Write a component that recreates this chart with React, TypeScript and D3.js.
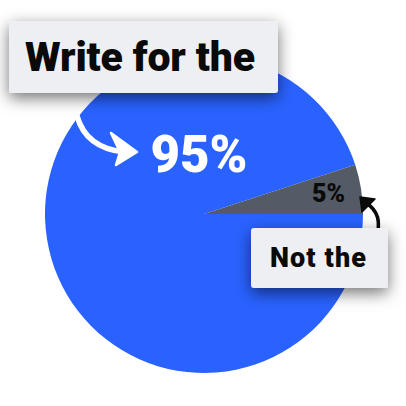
import { useEffect, useRef } from 'react';
import * as d3 from 'd3';

const categories = ['Write for the', 'Not the'];
const values = [95, 5];
const valueLabels = ['95%', '5%'];
const colors = ['#2962FF', '#535B67'];

const W = 406;
const H = 406;

export default function App() {
  const svgRef = useRef<SVGSVGElement>(null);

  useEffect(() => {
    if (!svgRef.current) return;
    const svg = d3.select(svgRef.current);
    svg.selectAll('*').remove();

    const cx = 204;
    const cy = 214;
    const radius = 159;
    const font = 'Roboto, "Noto Sans", sans-serif';

    const defs = svg.append('defs');
    const shadow = defs
      .append('filter')
      .attr('id', 'shadow')
      .attr('x', '-30%')
      .attr('y', '-50%')
      .attr('width', '160%')
      .attr('height', '220%');
    shadow
      .append('feDropShadow')
      .attr('dx', 0)
      .attr('dy', 5)
      .attr('stdDeviation', 8)
      .attr('flood-color', '#000')
      .attr('flood-opacity', 0.55);

    const data = categories.map((c, i) => ({ name: c, value: values[i], label: valueLabels[i], color: colors[i] }));

    const pie = d3
      .pie<typeof data[number]>()
      .value((d) => d.value)
      .sort(null)
      .startAngle(Math.PI / 2)
      .endAngle(Math.PI / 2 + 2 * Math.PI);

    const arc = d3.arc<d3.PieArcDatum<typeof data[number]>>().innerRadius(0).outerRadius(radius);
    const labelArc = d3.arc<d3.PieArcDatum<typeof data[number]>>().innerRadius(125).outerRadius(125);

    const g = svg.append('g').attr('transform', `translate(${cx},${cy})`);
    const arcs = pie(data);

    g.selectAll('path.slice')
      .data(arcs)
      .enter()
      .append('path')
      .attr('class', 'slice')
      .attr('d', arc)
      .attr('fill', (d) => d.data.color);

    // small slice label
    const small = arcs[1];
    const [sx, sy] = labelArc.centroid(small);
    g.append('text')
      .attr('x', sx + 1)
      .attr('y', sy + 8)
      .attr('text-anchor', 'middle')
      .style('font-family', font)
      .style('font-weight', 900)
      .style('font-size', '25px')
      .style('fill', '#0a0a0a')
      .text(small.data.label);

    // big slice label
    svg
      .append('text')
      .attr('x', 199)
      .attr('y', 172)
      .attr('text-anchor', 'middle')
      .style('font-family', font)
      .style('font-weight', 900)
      .style('font-size', '51px')
      .style('fill', '#ffffff')
      .text(arcs[0].data.label);

    // white arrow
    svg
      .append('path')
      .attr('d', 'M77,116 Q86,148 124,152')
      .attr('fill', 'none')
      .attr('stroke', '#fff')
      .attr('stroke-width', 5.5)
      .attr('stroke-linecap', 'round');
    svg
      .append('path')
      .attr('d', 'M111,133 L137,152 L116,165 L120,152 Z')
      .attr('fill', '#fff')
      .attr('stroke', '#fff')
      .attr('stroke-width', 2.5)
      .attr('stroke-linejoin', 'round');

    // black arrow
    svg
      .append('path')
      .attr('d', 'M376,238 Q384,214 366,203')
      .attr('fill', 'none')
      .attr('stroke', '#0a0a0a')
      .attr('stroke-width', 3.5)
      .attr('stroke-linecap', 'round');
    svg
      .append('path')
      .attr('d', 'M360,197 L375,199 L362,212 Z')
      .attr('fill', '#0a0a0a')
      .attr('stroke', '#0a0a0a')
      .attr('stroke-width', 1.5)
      .attr('stroke-linejoin', 'round');

    // callout boxes
    const boxes = [
      { text: categories[0], x: 9, y: 21, w: 269, h: 72, tx: 25, ty: 71, size: 41, len: 230 },
      { text: categories[1], x: 251, y: 228, w: 137, h: 60, tx: 270, ty: 267, size: 27, len: 96 },
    ];
    boxes.forEach((b) => {
      svg
        .append('rect')
        .attr('x', b.x)
        .attr('y', b.y)
        .attr('width', b.w)
        .attr('height', b.h)
        .attr('rx', 3)
        .attr('fill', '#EDEFF2')
        .attr('filter', 'url(#shadow)');
      svg
        .append('text')
        .attr('x', b.tx)
        .attr('y', b.ty)
        .attr('textLength', b.len)
        .attr('lengthAdjust', 'spacing')
        .style('font-family', font)
        .style('font-weight', 900)
        .style('font-size', `${b.size}px`)
        .style('fill', '#0a0a0a')
        .text(b.text);
    });
  }, []);

  return (
    <svg
      ref={svgRef}
      width={W}
      height={H}
      style={{ position: 'absolute', left: 0, top: 0, background: '#fff' }}
    />
  );
}
